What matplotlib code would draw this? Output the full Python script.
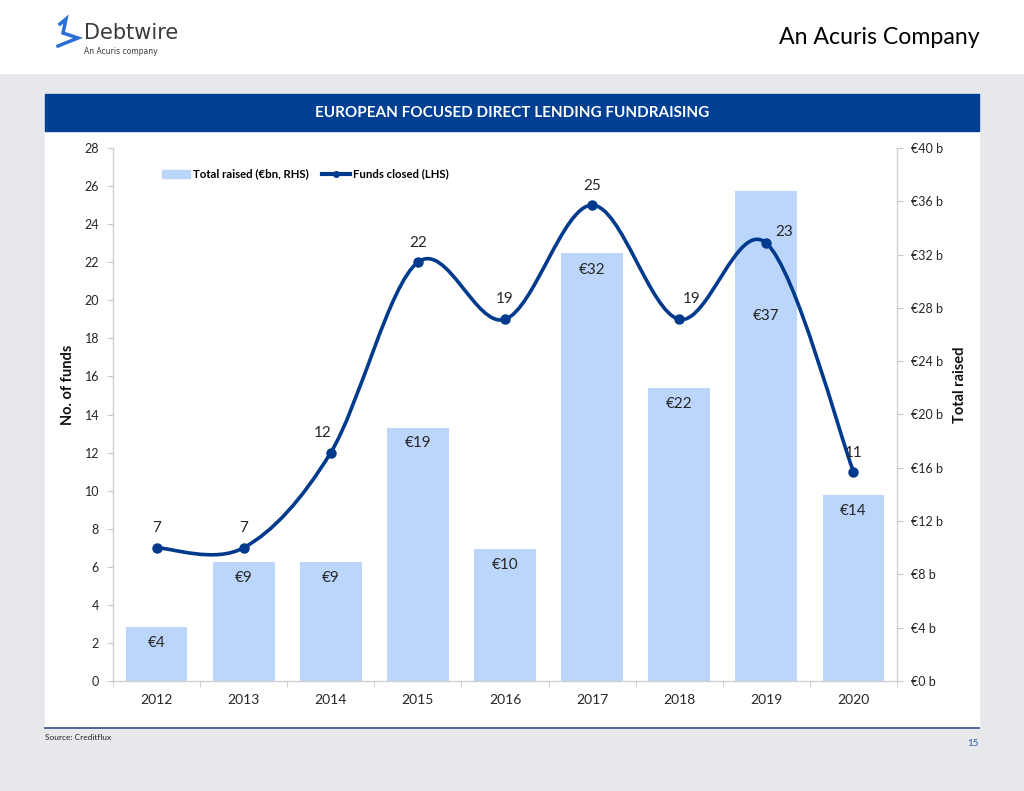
import numpy as np
import matplotlib as mpl
import matplotlib.pyplot as plt
from matplotlib.path import Path
from matplotlib.patches import PathPatch, Rectangle, Patch
from matplotlib.lines import Line2D

years = ["2012", "2013", "2014", "2015", "2016", "2017", "2018", "2019", "2020"]
funds_closed = [7, 7, 12, 22, 19, 25, 19, 23, 11]
total_raised = [4.05, 8.9, 8.9, 19.0, 9.9, 32.1, 22.0, 36.8, 13.95]
raised_labels = ["€4", "€9", "€9", "€19", "€10", "€32", "€22", "€37", "€14"]
left_ticks = list(range(0, 29, 2))
right_ticks = list(range(0, 41, 4))

# label offsets in pixels (dx, dy)
line_lbl_off = [(0, 20), (0, 20), (-8, 20), (0, 19), (0, 20), (0, 19), (12, 20), (18, 11), (0, 19)]
bar_lbl_off = [-16, -16, -16, -15, -16, -17, -16, -125, -16]

DARK = "#003a8c"
BAR = "#bcd6fb"
TXT = "#262626"
BG = "#e6e8ec"

mpl.rcParams['font.family'] = 'Lato'
W, H = 1024, 791
fig = plt.figure(figsize=(W / 100, H / 100), dpi=100)
fig.patch.set_facecolor(BG)

def fx(px):
    return px / W

def fy(py):
    return 1 - py / H

# page background pieces
fig.add_artist(Rectangle((0, fy(73)), 1, 73 / H, transform=fig.transFigure, color="white", zorder=0))
fig.add_artist(Rectangle((fx(45), fy(728)), fx(934), (728 - 94) / H, transform=fig.transFigure,
                         color="white", zorder=0))
fig.add_artist(Rectangle((fx(45), fy(131)), fx(934), 37 / H, transform=fig.transFigure,
                         color="#003f91", zorder=1))
fig.add_artist(Line2D([fx(45), fx(979)], [fy(728), fy(728)], transform=fig.transFigure,
                      color="#2c4c7c", lw=1.2))

fig.text(fx(512), fy(113), "EUROPEAN FOCUSED DIRECT LENDING FUNDRAISING", color="white",
         fontsize=11, fontweight="bold", ha="center", va="center")
fig.text(fx(980), fy(37), "An Acuris Company", color="black", fontsize=16.7, ha="right", va="center")

# logo
fig.add_artist(Line2D([fx(60), fx(66), fx(63), fx(78), fx(58)],
                      [fy(24), fy(19), fy(33), fy(38), fy(46)],
                      transform=fig.transFigure, color="#2a6fd6", lw=2.5, solid_joinstyle="miter"))
fig.text(fx(84), fy(33), "Debtwire", color="#3a3a3a", fontsize=15, ha="left", va="center",
         family="DejaVu Sans")
fig.text(fx(84), fy(52), "An Acuris company", color="#3a3a3a", fontsize=5.5, ha="left", va="center",
         family="DejaVu Sans")

fig.text(fx(45), fy(737), "Source: Creditflux", color=TXT, fontsize=6, ha="left", va="center")
fig.text(fx(979), fy(743), "15", color="#2a5aa0", fontsize=7, ha="right", va="center")

# axes
ax = fig.add_axes([fx(113), fy(681), fx(897 - 113), (681 - 148) / H])
axr = ax.twinx()
ax.set_zorder(axr.get_zorder() + 1)
ax.patch.set_visible(False)

x = np.arange(len(years))
bars = axr.bar(x, total_raised, width=0.71, color=BAR, zorder=2)
axr.set_ylim(0, 40)
axr.set_yticks(right_ticks)
axr.set_yticklabels(["€%d b" % v for v in right_ticks])
for i, b in enumerate(bars):
    axr.annotate(raised_labels[i], (b.get_x() + b.get_width() / 2, b.get_height()),
                 xytext=(0, bar_lbl_off[i]), textcoords="offset pixels",
                 ha="center", va="center", fontsize=11, color=TXT)

# smoothed line (Catmull-Rom as cubic Bezier)
pts = np.column_stack([x, funds_closed]).astype(float)
verts = [pts[0]]
codes = [Path.MOVETO]
n = len(pts)
for i in range(n - 1):
    p0 = pts[max(i - 1, 0)]
    p1 = pts[i]
    p2 = pts[i + 1]
    p3 = pts[min(i + 2, n - 1)]
    verts += [p1 + (p2 - p0) / 6, p2 - (p3 - p1) / 6, p2]
    codes += [Path.CURVE4] * 3
ax.add_patch(PathPatch(Path(verts, codes), fill=False, edgecolor=DARK, lw=2.6, zorder=3,
                       capstyle="round", joinstyle="round"))
ax.plot(x, funds_closed, "o", color=DARK, markersize=6.5, zorder=4)
for i, v in enumerate(funds_closed):
    dx, dy = line_lbl_off[i]
    ax.annotate(str(v), (x[i], v), xytext=(dx, dy), textcoords="offset pixels",
                ha="center", va="center", fontsize=11, color=TXT, zorder=5)

ax.set_xlim(-0.5, len(years) - 0.5)
ax.set_ylim(0, 28)
ax.set_yticks(left_ticks)
ax.set_xticks(x)
ax.set_xticklabels(years)
ax.set_xticks(np.arange(-0.5, len(years)), minor=True)

for a in (ax, axr):
    for s in a.spines.values():
        s.set_visible(False)
ax.spines["left"].set_visible(True)
ax.spines["bottom"].set_visible(True)
axr.spines["right"].set_visible(True)
for s in (ax.spines["left"], ax.spines["bottom"], axr.spines["right"]):
    s.set_color("#d0d0d0")
    s.set_linewidth(1.0)

ax.tick_params(axis="y", length=4, color="#c8c8c8", labelsize=9, labelcolor=TXT, pad=6)
ax.tick_params(axis="x", which="major", length=0, labelsize=10, labelcolor=TXT, pad=9)
ax.tick_params(axis="x", which="minor", length=4, color="#c8c8c8")
axr.tick_params(axis="y", length=4, color="#c8c8c8", labelsize=9, labelcolor=TXT, pad=6)

ax.set_ylabel("No. of funds", fontsize=10.5, fontweight="bold", color="#111111")
axr.set_ylabel("Total raised", fontsize=10.5, fontweight="bold", color="#111111")
ax.yaxis.set_label_coords(-0.049, 0.555)
axr.yaxis.set_label_coords(1.071, 0.555)

handles = [Patch(color=BAR), Line2D([], [], color=DARK, lw=3, marker="o", markersize=4)]
ax.legend(handles, ["Total raised (€bn, RHS)", "Funds closed (LHS)"], ncol=2, frameon=False,
          loc="center left", bbox_to_anchor=(fx(152), fy(174)), bbox_transform=fig.transFigure,
          prop={"weight": "bold", "size": 8.2}, handlelength=2.4, handletextpad=0.3,
          columnspacing=1.2, handleheight=0.7)

fig.savefig("out.png", dpi=100, facecolor=fig.get_facecolor())
